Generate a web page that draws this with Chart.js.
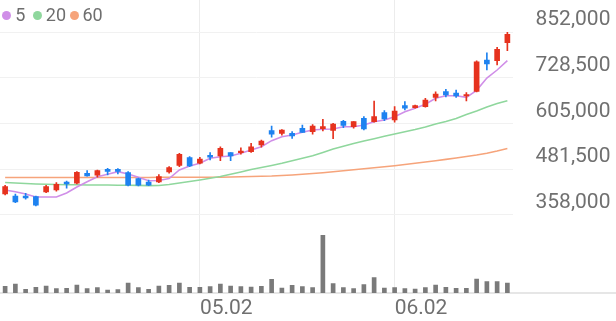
<!DOCTYPE html>
<html>
<head>
<meta charset="utf-8">
<script src="https://cdn.jsdelivr.net/npm/chart.js@4"></script>
<style>
  html, body { margin: 0; padding: 0; background: #fff; }
  #wrap { position: relative; width: 616px; height: 321px; overflow: hidden; }
  #c { position: absolute; left: 0; top: 0; }
  .lg-dot { position: absolute; width: 9px; height: 9px; border-radius: 50%; top: 10.5px; }
  .lg-txt { position: absolute; top: 4px; font: 18px/21px Roboto, sans-serif; color: #6e6e6e; }
</style>
</head>
<body>
<div id="wrap">
  <canvas id="c" width="616" height="321"></canvas>
  <div id="legend"></div>
</div>
<script>
// ---- data ----
const categories = Array.from({length: 50}, (_, i) => 'D' + (i + 1));
const tickIndex = [19, 38];
const tickLabels = ['05.02', '06.02'];
const priceTicks = [358000, 481500, 605000, 728500, 852000];

const openP  = [414700, 409300, 409300, 407400, 420100, 425500, 447100, 443600, 470600, 465200,
                481400, 481400, 472200, 456000, 447100, 447100, 474100, 491600, 512700, 497600,
                519200, 517300, 526200, 526200, 528900, 546900, 585600, 578500, 578500, 592000,
                583000, 590900, 586100, 610900, 596400, 619100, 609900, 634200, 614400, 653100,
                647700, 650400, 675700, 691400, 687300, 679200, 691400, 776400, 774500, 823100];
const highP  = [438200, 414700, 416600, 409300, 438200, 445200, 449800, 474900, 477600, 479500,
                484000, 483000, 474900, 457900, 452500, 466900, 488400, 524600, 515400, 513800,
                526200, 542300, 526700, 539600, 551500, 560500, 598300, 588300, 583000, 601000,
                601800, 616300, 605600, 613600, 610500, 623400, 665700, 639600, 650400, 663900,
                654900, 673000, 690800, 697400, 695400, 688700, 774500, 796100, 810700, 851200];
const lowP   = [412000, 391200, 400400, 382300, 418200, 422000, 430100, 441700, 462500, 459800,
                466000, 468700, 436300, 436300, 437100, 445200, 470600, 488400, 488400, 495800,
                506500, 504600, 504600, 521900, 527200, 541200, 567800, 573200, 565000, 580600,
                576000, 584800, 564100, 593400, 592100, 587500, 608300, 612600, 608300, 641400,
                646100, 648800, 665700, 676500, 675700, 665700, 690000, 749400, 762900, 801500];
const closeP = [434400, 393100, 403900, 384200, 434400, 440900, 441700, 473300, 463300, 477600,
                475900, 475900, 438200, 438200, 438200, 461500, 485700, 521900, 490300, 509200,
                513800, 538000, 517300, 530800, 542300, 557800, 575900, 587500, 571200, 581200,
                598300, 596400, 603700, 599600, 609900, 590200, 623400, 617200, 638700, 646100,
                653100, 668400, 684600, 681900, 679200, 683300, 771800, 765600, 805300, 845800];

const ma5  = [425500, 420900, 414700, 406600, 406600, 406600, 417400, 433600, 447900, 461400,
              467900, 474900, 468700, 459800, 450600, 451100, 456500, 479500, 490300, 497600,
              511100, 515400, 517300, 524600, 533500, 542300, 558600, 569400, 573900, 581200,
              587500, 589300, 590200, 596400, 596400, 601000, 609900, 614400, 623400, 636900,
              646100, 656900, 673000, 680000, 680000, 675700, 694600, 727800, 749400, 774500];
const ma20 = [445800, 444400, 443100, 441700, 440900, 440400, 439800, 439500, 439000, 439000,
              439000, 438400, 438200, 437900, 437400, 437600, 440400, 444400, 448400, 452500,
              457100, 461900, 467900, 474100, 480800, 486200, 491600, 497600, 504300, 511100,
              517800, 526700, 536200, 543500, 551000, 557800, 564000, 570400, 576700, 582900,
              588800, 595600, 603700, 610400, 618500, 629300, 638700, 649500, 658900, 666600];
const ma60 = [459200, 459200, 459200, 459200, 459200, 459200, 459200, 459200, 459200, 459200,
              459200, 459200, 459200, 459200, 459200, 459800, 459800, 459800, 459800, 459800,
              459800, 460000, 460600, 461100, 461900, 462700, 463300, 464600, 466000, 467900,
              470000, 472200, 474600, 477300, 480000, 482700, 485400, 488100, 491100, 494300,
              497600, 501100, 504600, 508100, 511900, 515900, 520000, 524800, 530800, 537500];
const volume = [67, 90, 37, 57, 70, 43, 47, 80, 43, 53,
                30, 33, 100, 53, 37, 70, 77, 100, 57, 57,
                63, 90, 70, 63, 60, 67, 137, 50, 77, 63,
                53, 577, 93, 53, 43, 83, 153, 50, 53, 43,
                40, 53, 80, 57, 47, 47, 140, 113, 113, 100];

// ---- styles ----
const UP = '#e6321e', DOWN = '#1e82f0';
const MA_COLORS = {'5': '#d08fe8', '20': '#8fd79d', '60': '#f6a47b'};
const TXT = '#707070';

const candleColors = closeP.map((c, i) => c >= openP[i] ? UP : DOWN);
const wicks = lowP.map((l, i) => [l, highP[i]]);
const bodies = openP.map((o, i) => [o, closeP[i]]);

// legend (HTML text)
const legendItems = [
  {name: '5', dot: 2.2, txt: 15.2},
  {name: '20', dot: 32.8, txt: 45.8},
  {name: '60', dot: 69.5, txt: 82.4}
];
const lg = document.getElementById('legend');
legendItems.forEach(it => {
  const d = document.createElement('div');
  d.className = 'lg-dot'; d.style.left = it.dot + 'px'; d.style.background = MA_COLORS[it.name];
  const t = document.createElement('div');
  t.className = 'lg-txt'; t.style.left = it.txt + 'px'; t.textContent = it.name;
  lg.appendChild(d); lg.appendChild(t);
});

const baseline = {
  id: 'baseline',
  beforeDatasetsDraw(chart) {
    const {ctx, chartArea} = chart;
    ctx.save();
    ctx.strokeStyle = '#e6e6e6';
    ctx.lineWidth = 2;
    ctx.beginPath();
    ctx.moveTo(0, chartArea.bottom);
    ctx.lineTo(chart.width, chartArea.bottom);
    ctx.stroke();
    ctx.restore();
  }
};

const font = {family: 'Roboto', size: 21};

new Chart(document.getElementById('c'), {
  data: {
    labels: categories,
    datasets: [
      {type: 'line', label: '5', data: ma5, borderColor: MA_COLORS['5'], borderWidth: 1.6, pointRadius: 0, tension: 0, yAxisID: 'y', order: 2},
      {type: 'line', label: '20', data: ma20, borderColor: MA_COLORS['20'], borderWidth: 1.6, pointRadius: 0, tension: 0, yAxisID: 'y', order: 3},
      {type: 'line', label: '60', data: ma60, borderColor: MA_COLORS['60'], borderWidth: 1.6, pointRadius: 0, tension: 0, yAxisID: 'y', order: 4},
      {type: 'bar', label: 'wick', data: wicks, backgroundColor: candleColors, barThickness: 1, grouped: false, borderSkipped: false, yAxisID: 'y', order: 1},
      {type: 'bar', label: 'body', data: bodies, backgroundColor: candleColors, barThickness: 5, grouped: false, borderSkipped: false, yAxisID: 'y', order: 0},
      {type: 'bar', label: 'volume', data: volume, backgroundColor: '#7a7a7a', barThickness: 4, grouped: false, yAxisID: 'yv', order: 5}
    ]
  },
  options: {
    responsive: false,
    animation: false,
    devicePixelRatio: 1,
    layout: {padding: 0},
    plugins: {legend: {display: false}, tooltip: {enabled: false}},
    scales: {
      x: {
        type: 'category',
        offset: true,
        grid: {offset: false, color: '#ececec', drawTicks: false},
        border: {display: false},
        afterBuildTicks: s => { s.ticks = tickIndex.map(v => ({value: v})); },
        afterFit: s => { s.height = 28; s.paddingLeft = 0; s.paddingRight = 0; s.paddingTop = 0; s.paddingBottom = 0; },
        ticks: {
          align: 'start', padding: 3, maxRotation: 0, autoSkip: false,
          font: font, color: TXT,
          callback: v => tickLabels[tickIndex.indexOf(v)]
        }
      },
      y: {
        position: 'right',
        min: 147400, max: 938400,
        grid: {color: '#f1f1f1', drawTicks: false},
        border: {display: false},
        afterBuildTicks: s => { s.ticks = priceTicks.map(v => ({value: v})); },
        afterFit: s => { s.width = 103.5; s.paddingTop = 0; s.paddingBottom = 0; s.paddingLeft = 0; s.paddingRight = 0; },
        ticks: {
          padding: 23, labelOffset: -12, font: font, color: TXT,
          callback: v => Number(v).toLocaleString('en-US')
        }
      },
      yv: {display: false, min: 0, max: 2930}
    }
  },
  plugins: [baseline]
});
</script>
</body>
</html>
